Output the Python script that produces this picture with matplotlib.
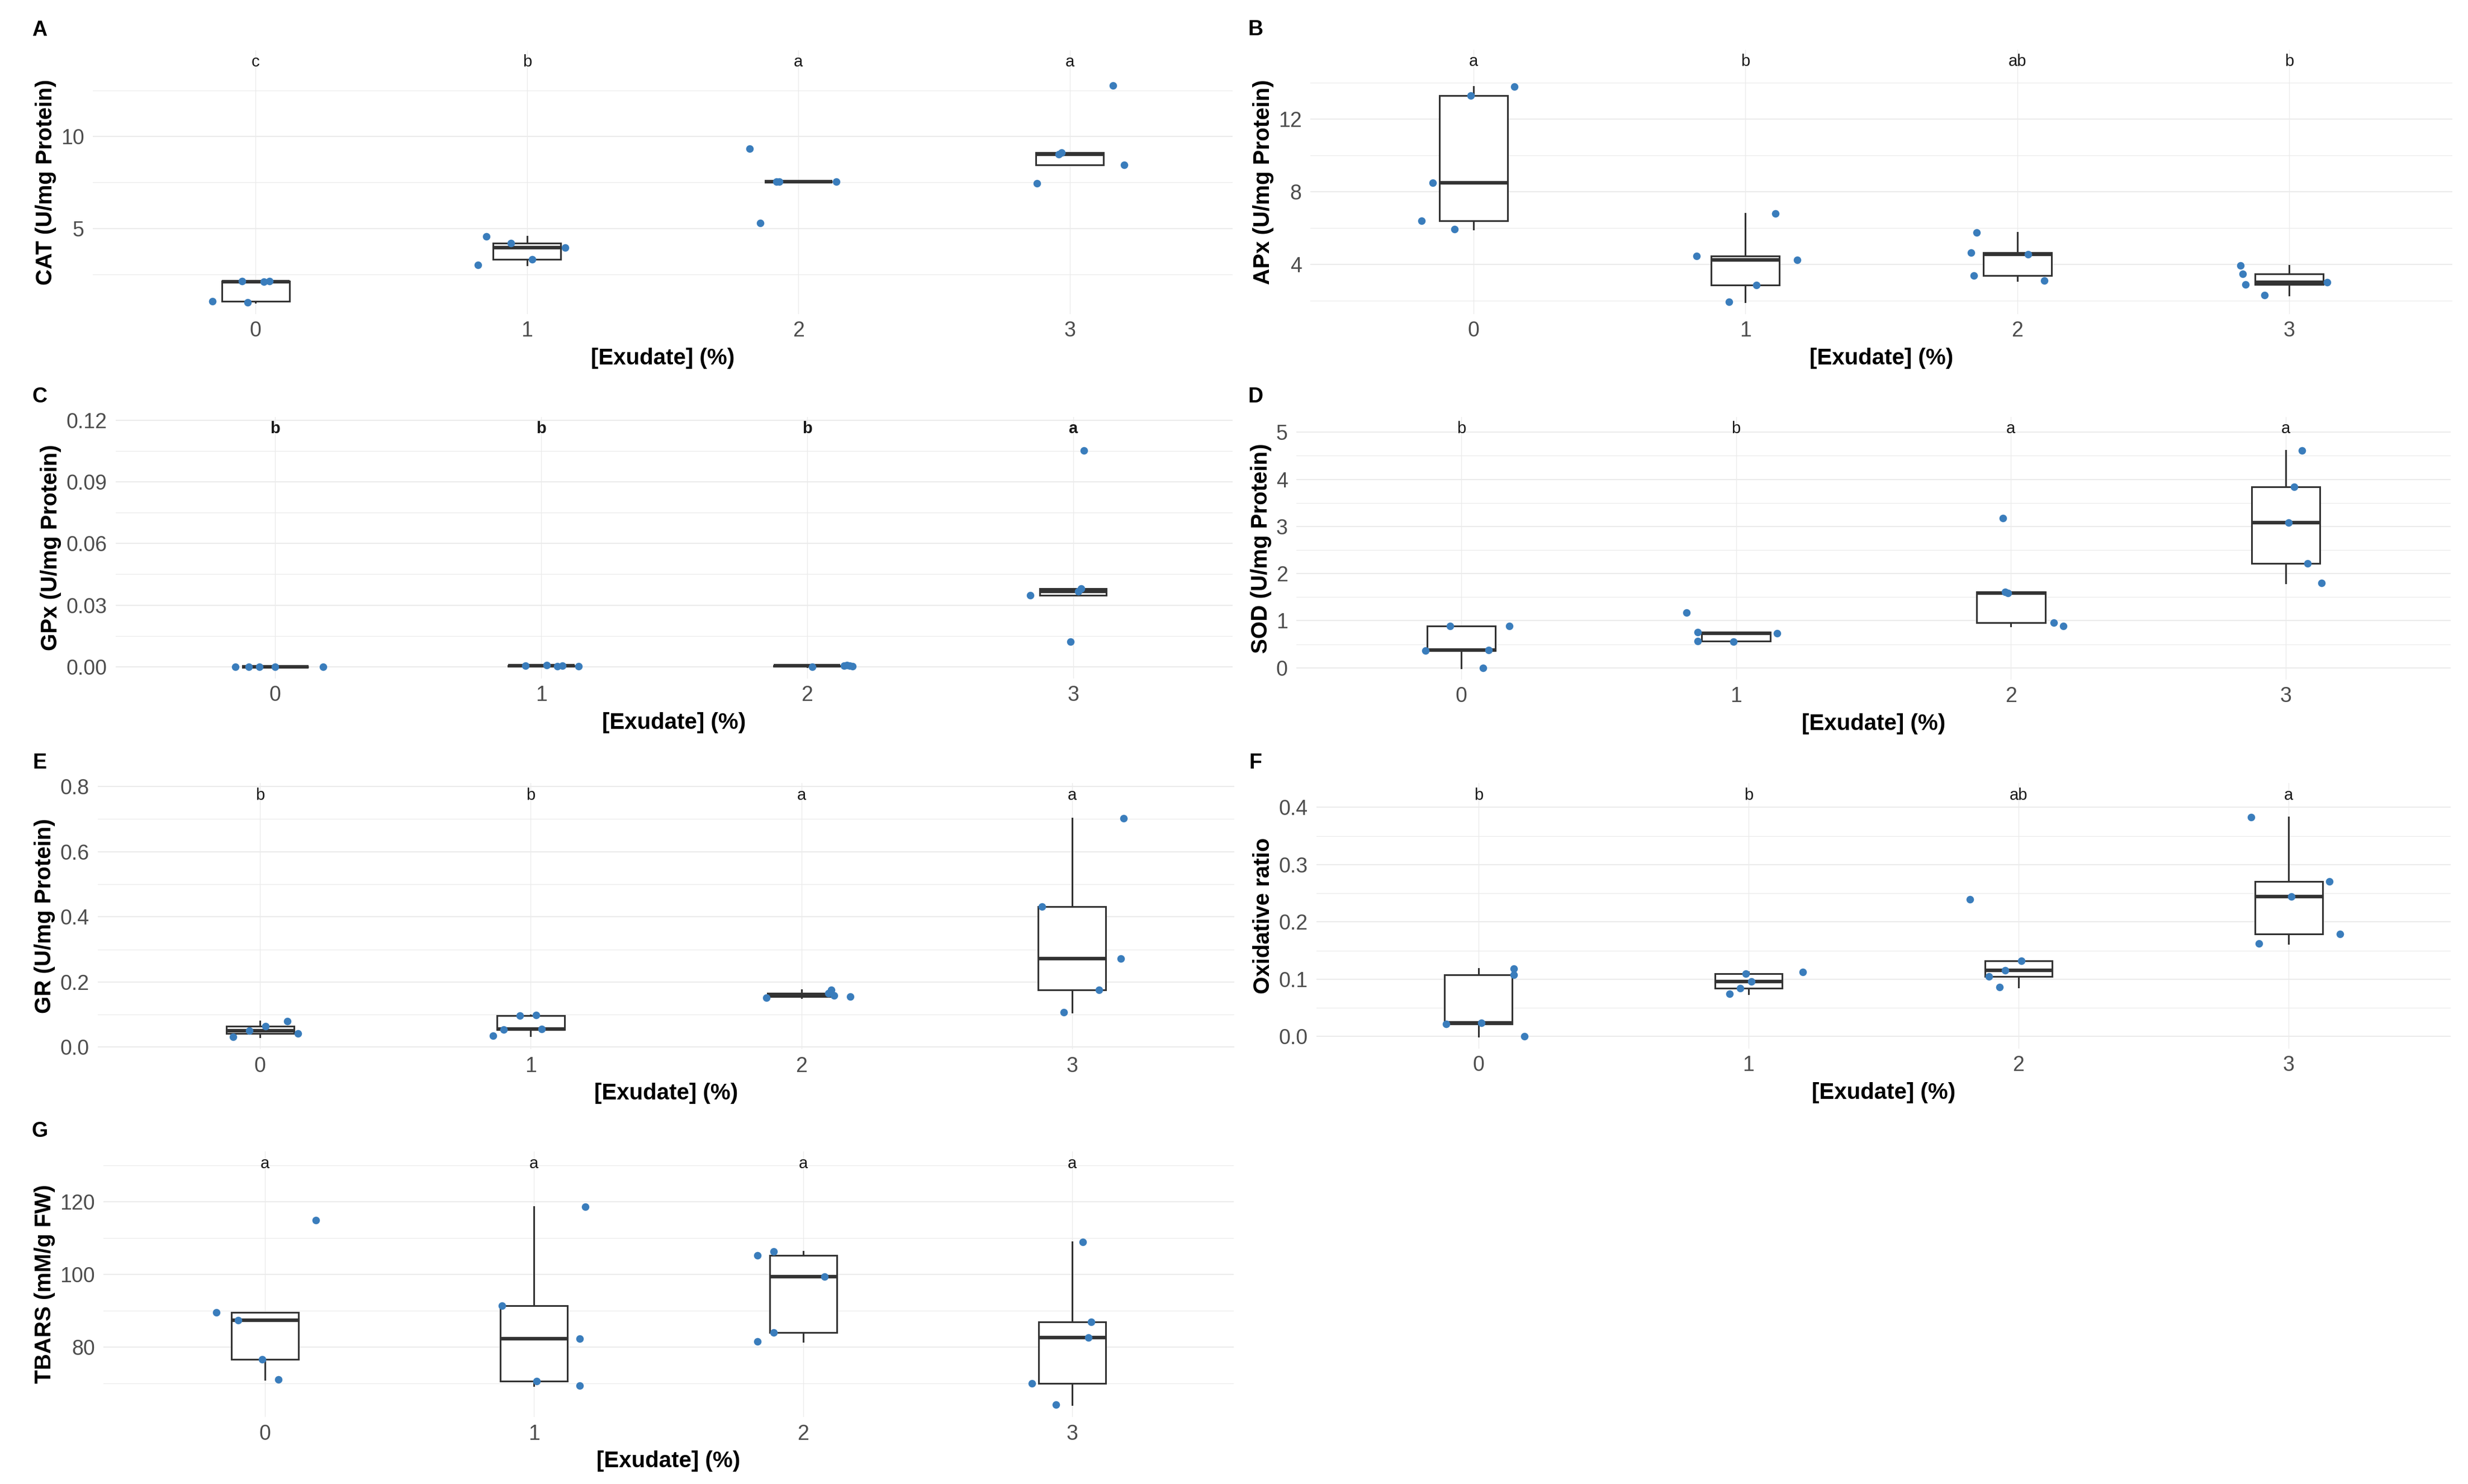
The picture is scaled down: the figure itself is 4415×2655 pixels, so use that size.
import matplotlib.pyplot as plt
import numpy as np

plt.rcParams['font.family'] = ['Liberation Sans', 'DejaVu Sans']

# exudate concentration groups
doses = [0, 1, 2, 3]
dose_labels = ['0', '1', '2', '3']

# values (5 replicates per group), plus the jitter offsets seen
cat_vals = [[1.04, 0.99, 2.12, 2.10, 2.13], [4.56, 4.20, 3.97, 3.31, 3.01],
            [9.34, 7.55, 7.55, 7.55, 5.29], [12.76, 9.04, 8.47, 7.46, 9.12]]
cat_jit = [[-0.16, -0.03, -0.05, 0.03, 0.05], [-0.15, -0.06, 0.14, 0.02, -0.18],
           [-0.18, -0.08, 0.14, -0.07, -0.14], [0.16, -0.04, 0.20, -0.12, -0.03]]
cat_letters = ['c', 'b', 'a', 'a']

apx_vals = [[13.79, 13.32, 8.49, 6.39, 5.93], [6.81, 4.47, 4.24, 2.85, 1.92],
            [5.77, 4.64, 4.55, 3.37, 3.11], [3.95, 3.48, 2.88, 3.01, 2.31]]
apx_jit = [[0.15, -0.01, -0.15, -0.19, -0.07], [0.11, -0.18, 0.19, 0.04, -0.06],
           [-0.15, -0.17, 0.04, -0.16, 0.10], [-0.18, -0.17, -0.16, 0.14, -0.09]]
apx_letters = ['a', 'b', 'ab', 'b']

gpx_vals = [[0.0, 0.0, 0.0, 0.0, 0.0], [0.0005, 0.0008, 0.0003, 0.0004, 0.0002],
            [0.0, 0.0005, 0.0008, 0.0004, 0.0001], [0.1053, 0.0348, 0.0367, 0.0123, 0.0380]]
gpx_jit = [[-0.15, -0.10, -0.06, 0.0, 0.18], [-0.06, 0.02, 0.06, 0.08, 0.14],
           [0.02, 0.14, 0.15, 0.16, 0.17], [0.04, -0.16, 0.02, -0.01, 0.03]]
gpx_letters = ['b', 'b', 'b', 'a']

sod_vals = [[0.88, 0.88, 0.36, 0.37, 0.0], [1.17, 0.76, 0.73, 0.56, 0.55],
            [3.18, 1.61, 1.59, 0.96, 0.88], [4.61, 3.84, 3.08, 2.22, 1.80]]
sod_jit = [[-0.04, 0.175, -0.13, 0.10, 0.08], [-0.18, -0.14, 0.15, -0.14, -0.01],
           [-0.03, -0.02, -0.01, 0.155, 0.19], [0.06, 0.03, 0.01, 0.08, 0.13]]
sod_letters = ['b', 'b', 'a', 'a']

gr_vals = [[0.031, 0.051, 0.064, 0.080, 0.042], [0.096, 0.098, 0.054, 0.055, 0.035],
           [0.152, 0.175, 0.158, 0.155, 0.165], [0.703, 0.432, 0.271, 0.175, 0.107]]
gr_jit = [[-0.10, -0.04, 0.02, 0.10, 0.14], [-0.04, 0.02, -0.10, 0.04, -0.14],
          [-0.13, 0.11, 0.12, 0.18, 0.10], [0.19, -0.11, 0.18, 0.10, -0.03]]
gr_letters = ['b', 'b', 'a', 'a']

ox_vals = [[0.118, 0.108, 0.022, 0.024, 0.0], [0.110, 0.096, 0.084, 0.075, 0.113],
           [0.239, 0.132, 0.116, 0.105, 0.086], [0.383, 0.271, 0.244, 0.179, 0.162]]
ox_jit = [[0.13, 0.13, -0.12, 0.01, 0.17], [-0.01, 0.01, -0.03, -0.07, 0.20],
          [-0.18, 0.01, -0.05, -0.11, -0.07], [-0.14, 0.15, 0.01, 0.19, -0.11]]
ox_letters = ['b', 'b', 'ab', 'a']

tbars_vals = [[89.6, 87.4, 115.0, 76.7, 71.1], [91.4, 118.7, 82.3, 70.7, 69.4],
              [105.2, 106.4, 99.4, 84.0, 81.6], [108.9, 87.0, 82.7, 70.0, 64.1]]
tbars_jit = [[-0.18, -0.10, 0.19, -0.01, 0.05], [-0.12, 0.19, 0.17, 0.01, 0.17],
             [-0.17, -0.11, 0.08, -0.11, -0.17], [0.04, 0.07, 0.06, -0.15, -0.06]]
tbars_letters = ['a', 'a', 'a', 'a']

W, H = 4415, 2655
fig = plt.figure(figsize=(W / 100, H / 100), dpi=100)

blue = '#3A7DBC'
line_col = '#333333'
grid_col = '#EBEBEB'

# tag, y title, values, jitter, letters, major ticks, minor ticks, tick format,
# plot box in pixels (left, top, right, bottom), bold letters
panels = [
    ('A', 'CAT (U/mg Protein)', cat_vals, cat_jit, cat_letters,
     [5, 10], [2.5, 7.5, 12.5], '{:.0f}', (166, 90, 2205, 562), False),
    ('B', 'APx (U/mg Protein)', apx_vals, apx_jit, apx_letters,
     [4, 8, 12], [2, 6, 10, 14], '{:.0f}', (2344, 89, 4387, 562), False),
    ('C', 'GPx (U/mg Protein)', gpx_vals, gpx_jit, gpx_letters,
     [0, 0.03, 0.06, 0.09, 0.12], [0.015, 0.045, 0.075, 0.105], '{:.2f}', (207, 746, 2205, 1214), True),
    ('D', 'SOD (U/mg Protein)', sod_vals, sod_jit, sod_letters,
     [0, 1, 2, 3, 4, 5], [0.5, 1.5, 2.5, 3.5, 4.5], '{:.0f}', (2319, 746, 4384, 1216), False),
    ('E', 'GR (U/mg Protein)', gr_vals, gr_jit, gr_letters,
     [0, 0.2, 0.4, 0.6, 0.8], [0.1, 0.3, 0.5, 0.7], '{:.1f}', (175, 1401, 2208, 1877), False),
    ('F', 'Oxidative ratio', ox_vals, ox_jit, ox_letters,
     [0, 0.1, 0.2, 0.3, 0.4], [0.05, 0.15, 0.25, 0.35], '{:.1f}', (2355, 1401, 4384, 1876), False),
    ('G', 'TBARS (mM/g FW)', tbars_vals, tbars_jit, tbars_letters,
     [80, 100, 120], [70, 90, 110, 130], '{:.0f}', (185, 2060, 2207, 2535), False),
]

for tag, ylab, vals, jit, letters, ticks, minor, fmt, box, bold_letters in panels:
    l, t, r, b = box
    ax = fig.add_axes([l / W, 1 - b / H, (r - l) / W, (b - t) / H])
    ax.set_axisbelow(True)

    ax.boxplot(vals, positions=doses, widths=0.25, showfliers=False, showcaps=False,
               patch_artist=True,
               boxprops=dict(facecolor='white', edgecolor=line_col, linewidth=2.2),
               whiskerprops=dict(color=line_col, linewidth=2.2),
               medianprops=dict(color=line_col, linewidth=4.6))

    for d, v, j in zip(doses, vals, jit):
        ax.scatter(d + np.array(j), v, s=95, color=blue, linewidths=0, zorder=4)

    top = 1.1 * max(max(v) for v in vals)
    low = min(min(v) for v in vals)
    pad = 0.05 * (top - low)
    ax.set_ylim(low - pad, top + pad)
    ax.set_xlim(-0.6, 3.6)

    for d, lt in zip(doses, letters):
        ax.text(d, top, lt, ha='center', va='center', fontsize=21, color='#1a1a1a',
                fontweight='bold' if bold_letters else 'normal')

    ax.set_xticks(doses)
    ax.set_xticklabels(dose_labels)
    ax.set_yticks(ticks)
    ax.set_yticklabels([fmt.format(v) for v in ticks])
    ax.set_yticks(minor, minor=True)
    ax.grid(axis='y', which='major', color=grid_col, linewidth=1.5)
    ax.grid(axis='y', which='minor', color=grid_col, linewidth=0.9)
    ax.grid(axis='x', which='major', color=grid_col, linewidth=1.0)
    ax.tick_params(axis='both', which='both', length=0, labelsize=27, labelcolor='#4D4D4D')
    ax.tick_params(axis='x', pad=9)
    ax.tick_params(axis='y', pad=11)
    for s in ax.spines.values():
        s.set_visible(False)

    ax.set_xlabel('[Exudate] (%)', fontsize=29, fontweight='bold', labelpad=8)
    ax.set_ylabel(ylab, fontsize=29, fontweight='bold', labelpad=6)

    tag_x = 71 if l < 1000 else 2246
    fig.text(tag_x / W, 1 - (t - 36) / H, tag, fontsize=27, fontweight='bold',
             ha='center', va='center')

fig.savefig('out.png', dpi=100, facecolor='white')
